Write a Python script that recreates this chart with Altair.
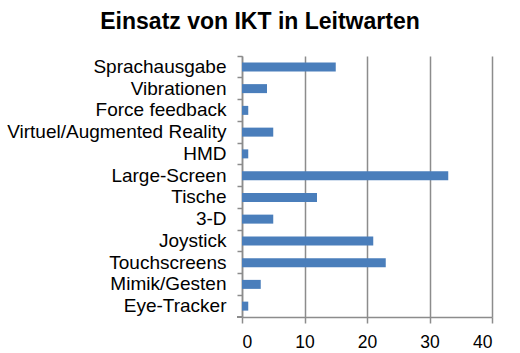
import altair as alt
import pandas as pd

categories = ["Sprachausgabe", "Vibrationen", "Force feedback", "Virtuel/Augmented Reality",
              "HMD", "Large-Screen", "Tische", "3-D", "Joystick", "Touchscreens",
              "Mimik/Gesten", "Eye-Tracker"]
values = [15, 4, 1, 5, 1, 33, 12, 5, 21, 23, 3, 1]
x_ticks = [0, 10, 20, 30, 40]

df = pd.DataFrame({"cat": categories, "val": values})

FONT = "Liberation Sans"
GRAY = "#8c8c8c"

bars = alt.Chart(df).mark_bar(color="#4a7ebb", height=9).encode(
    x=alt.X("val:Q", scale=alt.Scale(domain=[0, 40], nice=False),
            axis=alt.Axis(values=x_ticks, title=None, grid=True, gridColor=GRAY, gridWidth=1.5,
                          domainColor=GRAY, domainWidth=1.5, tickColor=GRAY, tickWidth=1.5,
                          tickSize=6, labelFont=FONT, labelFontSize=17.5, labelColor="black",
                          labelPadding=10)),
    y=alt.Y("cat:N", sort=categories,
            scale=alt.Scale(paddingInner=0, paddingOuter=0),
            axis=alt.Axis(title=None, bandPosition=0, domainColor=GRAY,
                          domainWidth=1.5, tickColor=GRAY, tickWidth=1.5, tickSize=5,
                          labelFont=FONT, labelFontSize=19, labelColor="black",
                          labelPadding=11, labelLimit=400, grid=False)),
)

corner_tick = alt.Chart(df).mark_rule(color=GRAY, strokeWidth=1.5).encode(
    x=alt.value(-5), x2=alt.value(0), y=alt.value(261)
)

chart = alt.layer(bars, corner_tick).properties(
    width=250,
    height=261,
    title=alt.TitleParams("Einsatz von IKT in Leitwarten", font=FONT, fontSize=23,
                          fontWeight="bold", color="black", anchor="middle", frame="group",
                          dx=-107, offset=21),
    autosize=alt.AutoSizeParams(type="none"),
    padding={"left": 242, "top": 56, "right": 28, "bottom": 36},
).configure_view(stroke=None)

chart.save("out.html", embed_options={"renderer": "svg", "actions": False})
